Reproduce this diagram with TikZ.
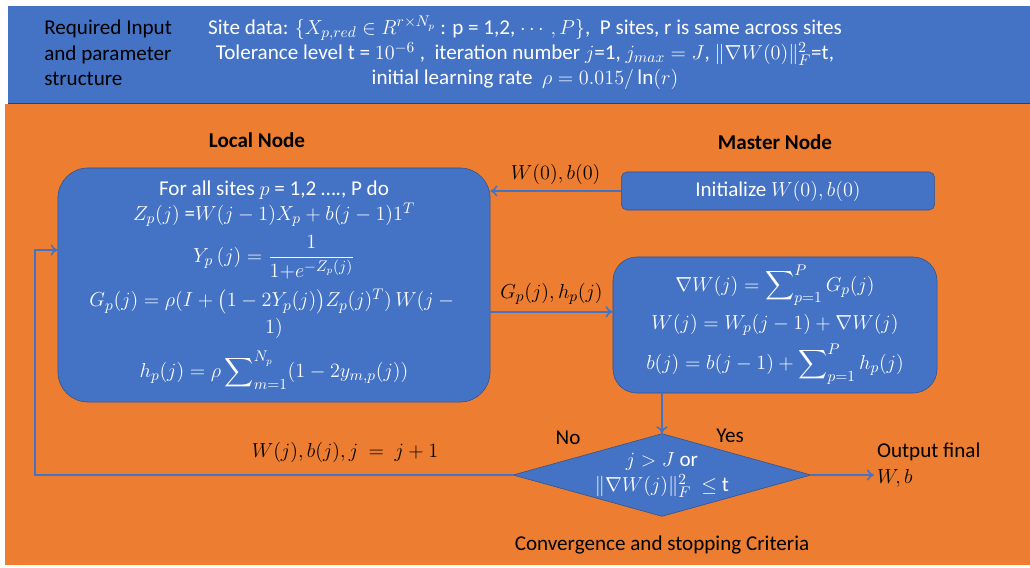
\documentclass[tikz,border=0pt]{standalone}
\usepackage{amsmath}
\usepackage{fontspec}
\setmainfont{Carlito}
\usetikzlibrary{positioning,shapes.geometric,arrows.meta,calc}

\definecolor{bandblue}{HTML}{4472C4}
\definecolor{edgeblue}{HTML}{2F528F}
\definecolor{bgorange}{HTML}{ED7D31}

\tikzset{
    every node/.style={font=\fontsize{15pt}{18pt}\selectfont},
    stage/.style={draw=edgeblue, fill=bandblue, text=white, align=center, inner sep=2pt},
    flow/.style={draw=bandblue, line width=1.1pt, -{To[length=5pt,width=8pt]}},
    title/.style={font=\fontsize{15pt}{18pt}\selectfont\bfseries},
}

\begin{document}
\begin{tikzpicture}[x=0.025cm,y=0.025cm]
    \useasboundingbox (0,0) rectangle (1030,567);
    \fill[white] (0,0) rectangle (1030,567);
    \fill[bgorange] (5,2) rectangle (1030,463);
    \fill[bandblue] (8,464) rectangle (1030,561);
    \draw[edgeblue!80!black, line width=1pt] (8,463.5) -- (1030,463.5);

    % input band
    \node[anchor=west, align=left, text=black, inner sep=0pt] (req) at (44,514)
        {Required Input\\and parameter\\structure};
    \node[align=center, text=white, inner sep=0pt] (input) at (525,514)
        {Site data: $\{X_{p,red}\in R^{r\times N_p}$ : p = 1,2, $\cdots, P\}$,~~P sites, r is same across sites\\
         Tolerance level t = $10^{-6}$ ,~~iteration number $j$=1, $j_{max}=J$, $\|\nabla W(0)\|_F^2$=t,\\
         initial learning rate~~$\rho = 0.015/\ln(r)$};

    % boxes
    \node[stage, rounded corners=0.75cm, minimum width=10.8cm, minimum height=5.85cm] (local) at (274,282)
        {For all sites $p$ = 1,2 \dots., P do\\
         $Z_p(j)$ =$W(j-1)X_p+b(j-1)1^T$\\[5pt]
         $Y_p\,(j)=\dfrac{1}{1{+}e^{-Z_p(j)}}$\\[6pt]
         $G_p(j)=\rho(I+\bigl(1-2Y_p(j)\bigr)Z_p(j)^T)\,W(j-{}$\\[1pt]
         $1)$\\[8pt]
         $h_p(j)=\rho\displaystyle\sum\nolimits_{m=1}^{N_p}(1-2y_{m,p}(j))$};
    \node[stage, rounded corners=4pt, minimum width=7.83cm, minimum height=0.95cm] (init) at (778,376)
        {Initialize $W(0), b(0)$};
    \node[stage, rounded corners=0.6cm, minimum width=8.1cm, minimum height=3.4cm] (master) at (775,242)
        {$\nabla W(j)=\displaystyle\sum\nolimits_{p=1}^{P}G_p(j)$\\[5pt]
         $W(j)=W_p(j-1)+\nabla W(j)$\\[5pt]
         $b(j)=b(j-1)+\displaystyle\sum\nolimits_{p=1}^{P}h_p(j)$};
    \node[stage, diamond, aspect=3.6, inner sep=0pt, minimum width=7.25cm] (crit) at (662,92)
        {$j>J$ or\\$\|\nabla W(j)\|_F^2\ \le$ t};

    \node[title] (localtitle) at (257,427) {Local Node};
    \node[title] (mastertitle) at (775,425) {Master Node};
    \node[below=0.35cm of crit] (critlabel) {Convergence and stopping Criteria};
    \node[anchor=west, align=left, inner sep=2pt] (out) at (874,102) {Output final\\$W,b$};
    \node (no) at (568,129) {No};
    \node (yes) at (730,131) {Yes};
    \node (update) at (345,115) {$W(j), b(j), j~=~j+1$};

    \coordinate (back) at (35,317);

    % connectors
    \draw[flow] (init.west) -- (init.west -| local.east)
        node[midway, above=1pt] {$W(0), b(0)$};
    \draw[flow] ([yshift=0.33cm]master.west -| local.east) -- ([yshift=0.33cm]master.west)
        node[midway, above=1pt] {$G_p(j), h_p(j)$};
    \draw[flow] (crit.north |- master.south) -- (crit.north);
    \draw[flow] (crit.east) -- (out.west |- crit.east);
    \draw[flow] (crit.west) -| (back) -- (back -| local.west);
\end{tikzpicture}
\end{document}
